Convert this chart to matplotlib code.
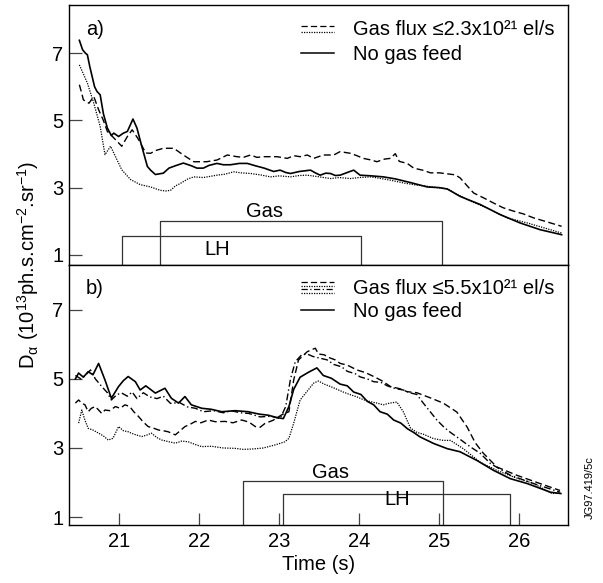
import matplotlib
matplotlib.use("Agg")
import matplotlib.pyplot as plt

plt.rcParams['font.family'] = ['Liberation Sans', 'DejaVu Sans']
plt.rcParams['mathtext.fontset'] = 'custom'
plt.rcParams['mathtext.rm'] = 'Liberation Sans'
plt.rcParams['mathtext.it'] = 'Liberation Sans:italic'
plt.rcParams['mathtext.bf'] = 'Liberation Sans:bold'

# ---- panel a) data (time in s, D-alpha in 1e13 ph/s/cm2/sr)
a_solid_t = [20.50, 20.54, 20.575, 20.60, 20.63, 20.66, 20.69, 20.72, 20.76, 20.80, 20.85, 20.90,
             20.93, 20.99, 21.05, 21.10, 21.17, 21.22, 21.28, 21.35, 21.39, 21.45, 21.55, 21.62,
             21.70, 21.80, 21.90, 21.97, 22.05, 22.12, 22.22, 22.30, 22.39, 22.50, 22.60, 22.70,
             22.81, 22.93, 23.01, 23.08, 23.14, 23.25, 23.39, 23.45, 23.51, 23.58, 23.64, 23.70,
             23.76, 23.85, 23.93, 24.01, 24.15, 24.30, 24.45, 24.64, 24.85, 25.00, 25.10, 25.26,
             25.51, 25.76, 26.01, 26.26, 26.53]
a_solid_v = [7.38, 7.10, 7.00, 6.95, 6.60, 6.30, 6.00, 5.86, 5.76, 5.20, 4.77, 4.55,
             4.62, 4.52, 4.62, 4.67, 5.04, 4.77, 4.23, 3.63, 3.52, 3.39, 3.43, 3.58,
             3.65, 3.73, 3.65, 3.58, 3.58, 3.66, 3.72, 3.68, 3.68, 3.72, 3.72, 3.65,
             3.58, 3.48, 3.52, 3.45, 3.42, 3.48, 3.52, 3.44, 3.37, 3.43, 3.42, 3.36,
             3.37, 3.45, 3.52, 3.37, 3.35, 3.32, 3.26, 3.15, 3.02, 3.00, 2.96, 2.74,
             2.50, 2.20, 1.95, 1.75, 1.60]

a_dash_t = [20.50, 20.53, 20.55, 20.62, 20.68, 20.74, 20.80, 20.85, 20.93, 21.03, 21.10, 21.16,
            21.24, 21.33, 21.39, 21.45, 21.55, 21.68, 21.80, 21.93, 22.09, 22.22, 22.35, 22.47,
            22.55, 22.64, 22.72, 22.81, 22.97, 23.10, 23.18, 23.26, 23.35, 23.43, 23.55, 23.68,
            23.76, 23.89, 23.97, 24.05, 24.15, 24.22, 24.32, 24.39, 24.45, 24.50, 24.60, 24.68,
            24.79, 24.89, 25.00, 25.10, 25.20, 25.26, 25.35, 25.43, 25.55, 25.68, 25.80, 25.93,
            26.05, 26.18, 26.35, 26.53]
a_dash_v = [6.06, 5.80, 5.61, 5.51, 5.71, 5.32, 5.00, 4.67, 4.48, 4.23, 4.52, 4.72,
            4.43, 4.03, 4.02, 4.10, 4.17, 4.17, 3.97, 3.77, 3.77, 3.82, 3.97, 3.92,
            3.90, 3.97, 3.90, 3.92, 3.92, 3.87, 3.95, 3.92, 3.97, 3.87, 3.97, 3.97,
            4.07, 4.02, 3.95, 3.87, 3.82, 3.77, 3.85, 3.87, 4.01, 3.78, 3.72, 3.58,
            3.52, 3.44, 3.44, 3.41, 3.38, 3.29, 3.05, 2.84, 2.70, 2.54, 2.40, 2.30,
            2.22, 2.10, 1.98, 1.85]

a_dot_t = [20.50, 20.60, 20.68, 20.76, 20.82, 20.89, 20.95, 21.03, 21.14, 21.26, 21.39, 21.51,
           21.58, 21.64, 21.70, 21.76, 21.85, 21.93, 22.05, 22.22, 22.32, 22.43, 22.52, 22.64,
           22.76, 22.89, 23.00, 23.14, 23.25, 23.35, 23.50, 23.64, 23.75, 23.89, 24.00, 24.14,
           24.25, 24.39, 24.55, 24.70, 24.85, 25.10, 25.35, 25.60, 25.85, 26.10, 26.53]
a_dot_v = [6.65, 6.11, 5.51, 4.82, 3.98, 4.23, 3.93, 3.53, 3.24, 3.09, 3.02, 2.92,
           2.90, 2.92, 3.05, 3.12, 3.25, 3.32, 3.30, 3.37, 3.40, 3.47, 3.44, 3.42,
           3.38, 3.32, 3.35, 3.32, 3.36, 3.37, 3.32, 3.27, 3.30, 3.27, 3.30, 3.32,
           3.28, 3.22, 3.14, 3.08, 3.04, 2.96, 2.64, 2.39, 2.10, 1.95, 1.65]

# ---- panel b) data
b_solid_t = [20.45, 20.49, 20.55, 20.61, 20.67, 20.74, 20.82, 20.90, 20.99, 21.05, 21.11, 21.20,
             21.26, 21.33, 21.45, 21.57, 21.65, 21.74, 21.82, 21.90, 22.03, 22.15, 22.28, 22.45,
             22.61, 22.75, 22.86, 22.97, 23.05, 23.12, 23.18, 23.26, 23.37, 23.47, 23.55, 23.65,
             23.76, 23.85, 23.93, 24.02, 24.10, 24.18, 24.26, 24.35, 24.43, 24.52, 24.60, 24.68,
             24.76, 24.85, 24.93, 25.10, 25.26, 25.47, 25.68, 25.89, 26.10, 26.39, 26.52]
b_solid_v = [5.00, 5.17, 5.05, 5.21, 5.12, 5.45, 4.97, 4.44, 4.78, 4.95, 5.07, 4.92,
             4.68, 4.80, 4.59, 4.73, 4.44, 4.30, 4.49, 4.25, 4.15, 4.12, 4.05, 4.08,
             4.05, 3.98, 3.95, 3.88, 3.85, 4.20, 4.70, 5.05, 5.20, 5.32, 5.10, 5.02,
             4.85, 4.80, 4.62, 4.55, 4.35, 4.25, 4.05, 3.98, 3.81, 3.72, 3.56, 3.45,
             3.32, 3.22, 3.13, 2.98, 2.89, 2.64, 2.35, 2.11, 1.97, 1.72, 1.68]

b_dashdot_t = [20.45, 20.52, 20.58, 20.64, 20.70, 20.78, 20.85, 20.90, 20.97, 21.03, 21.10, 21.16,
               21.22, 21.30, 21.38, 21.47, 21.55, 21.64, 21.75, 21.85, 21.95, 22.05, 22.18, 22.30,
               22.40, 22.51, 22.62, 22.76, 22.90, 23.01, 23.08, 23.14, 23.20, 23.28, 23.35, 23.42,
               23.51, 23.60, 23.68, 23.78, 23.85, 23.95, 24.01, 24.10, 24.18, 24.27, 24.35, 24.45,
               24.55, 24.63, 24.72, 24.80, 24.97, 25.06, 25.14, 25.22, 25.39, 25.51, 25.64, 25.89,
               26.18, 26.51]
b_dashdot_v = [5.10, 5.00, 5.12, 5.26, 5.00, 4.78, 4.60, 4.39, 4.55, 4.59, 4.50, 4.62,
               4.43, 4.60, 4.48, 4.43, 4.50, 4.29, 4.32, 4.19, 4.15, 4.05, 4.08, 4.02,
               4.08, 4.02, 4.00, 3.90, 3.92, 3.85, 4.20, 5.00, 5.50, 5.70, 5.72, 5.65,
               5.60, 5.55, 5.42, 5.35, 5.22, 5.15, 5.06, 5.00, 4.92, 4.90, 4.80, 4.72,
               4.68, 4.60, 4.55, 4.30, 3.81, 3.60, 3.45, 3.32, 3.03, 2.85, 2.55, 2.21,
               1.97, 1.72]

b_dash_t = [20.45, 20.49, 20.53, 20.57, 20.61, 20.65, 20.70, 20.74, 20.78, 20.82, 20.88, 20.95,
            21.01, 21.07, 21.13, 21.18, 21.24, 21.30, 21.36, 21.42, 21.49, 21.55, 21.61, 21.70,
            21.76, 21.82, 21.88, 21.95, 22.02, 22.11, 22.20, 22.32, 22.42, 22.53, 22.62, 22.70,
            22.76, 22.82, 22.92, 23.03, 23.12, 23.18, 23.24, 23.35, 23.45, 23.49, 23.56, 23.62,
            23.70, 23.76, 23.85, 23.97, 24.08, 24.18, 24.28, 24.39, 24.50, 24.60, 24.72, 24.89,
            25.05, 25.22, 25.35, 25.45, 25.55, 25.72, 25.97, 26.26, 26.51]
b_dash_v = [4.30, 4.39, 4.30, 4.25, 4.05, 4.15, 4.20, 4.10, 4.00, 4.10, 4.08, 4.20,
            4.15, 4.25, 4.20, 4.05, 3.91, 3.75, 3.62, 3.58, 3.52, 3.50, 3.47, 3.38,
            3.50, 3.62, 3.68, 3.77, 3.73, 3.81, 3.76, 3.77, 3.73, 3.81, 3.75, 3.62,
            3.60, 3.71, 3.80, 3.96, 4.05, 4.97, 5.55, 5.79, 5.89, 5.72, 5.70, 5.62,
            5.55, 5.45, 5.40, 5.26, 5.18, 5.07, 4.95, 4.78, 4.72, 4.63, 4.60, 4.45,
            4.30, 4.04, 3.60, 3.15, 2.85, 2.45, 2.21, 1.97, 1.77]

b_dot_t = [20.49, 20.53, 20.57, 20.61, 20.67, 20.74, 20.80, 20.86, 20.92, 20.99, 21.05, 21.11,
           21.18, 21.28, 21.35, 21.40, 21.47, 21.53, 21.62, 21.70, 21.78, 21.86, 21.95, 22.03,
           22.15, 22.30, 22.44, 22.55, 22.66, 22.80, 22.95, 23.07, 23.12, 23.18, 23.26, 23.35,
           23.43, 23.49, 23.56, 23.64, 23.72, 23.80, 23.88, 23.97, 24.05, 24.14, 24.22, 24.30,
           24.38, 24.47, 24.55, 24.64, 24.72, 24.80, 24.93, 25.05, 25.14, 25.30, 25.51, 25.72,
           25.93, 26.18, 26.41, 26.52]
b_dot_v = [3.72, 4.10, 3.80, 3.57, 3.52, 3.43, 3.35, 3.23, 3.28, 3.62, 3.50, 3.47,
           3.40, 3.33, 3.38, 3.43, 3.30, 3.23, 3.18, 3.14, 3.20, 3.18, 3.10, 3.04,
           3.05, 3.00, 2.99, 2.96, 2.97, 3.00, 3.09, 3.18, 3.28, 3.72, 4.39, 4.65,
           4.88, 4.94, 4.85, 4.78, 4.70, 4.62, 4.55, 4.48, 4.40, 4.34, 4.30, 4.25,
           4.30, 4.33, 4.05, 3.58, 3.45, 3.40, 3.27, 3.22, 3.22, 2.98, 2.59, 2.35,
           2.16, 1.97, 1.68, 1.70]

# timing windows: (start, end, level)
a_gas = (21.51, 25.03, 2.0)
a_lh = (21.03, 24.02, 1.57)
b_gas = (22.55, 25.05, 2.04)
b_lh = (23.04, 25.89, 1.67)

yticks = [1, 3, 5, 7]
xticks = [21, 22, 23, 24, 25, 26]

DASH = (5, 2.5)
DOT = (1, 1)
DASHDOT = (5, 2, 1, 2)
FS = 14.5


def window(ax, win, label, lx, ly, ymin):
    t0, t1, lev = win
    ax.plot([t0, t0, t1, t1], [ymin - 1, lev, lev, ymin - 1], color='#333333', lw=0.9)
    ax.text(lx, ly, label, fontsize=FS, ha='center', va='center')


def style(ax, ylim):
    ax.set_xlim(20.37, 26.61)
    ax.set_ylim(*ylim)
    ax.set_yticks(yticks)
    ax.tick_params(axis='y', direction='in', length=9, width=0.9, color='#444444',
                   labelsize=FS, pad=4)
    for s in ax.spines.values():
        s.set_linewidth(1.0)


fig = plt.figure(figsize=(6.03, 5.83), dpi=100)
ax1 = fig.add_axes([0.1144, 0.5455, 0.8276, 0.4459])
ax2 = fig.add_axes([0.1144, 0.0995, 0.8276, 0.4460])

# panel a
ax1.plot(a_dash_t, a_dash_v, color='black', lw=1.0, dashes=DASH)
ax1.plot(a_dot_t, a_dot_v, color='black', lw=0.9, dashes=DOT)
ax1.plot(a_solid_t, a_solid_v, color='black', lw=1.2)
style(ax1, (0.70, 8.43))
ax1.set_xticks([])
window(ax1, a_gas, 'Gas', 22.81, 2.30, 0.70)
window(ax1, a_lh, 'LH', 22.22, 1.15, 0.70)
ax1.text(20.58, 7.70, 'a)', fontsize=FS, ha='left', va='center')

# legend a (drawn by hand in axes coords)
ax1.plot([0.464, 0.531], [0.921, 0.921], transform=ax1.transAxes, color='black', lw=0.9, dashes=DASH)
ax1.plot([0.464, 0.531], [0.897, 0.897], transform=ax1.transAxes, color='black', lw=0.9, dashes=DOT)
ax1.plot([0.464, 0.531], [0.815, 0.815], transform=ax1.transAxes, color='black', lw=1.1)
ax1.text(0.569, 0.905, 'Gas flux \u22642.3x10\u00b2\u00b9 el/s', transform=ax1.transAxes,
         fontsize=FS, ha='left', va='center')
ax1.text(0.569, 0.808, 'No gas feed', transform=ax1.transAxes, fontsize=FS, ha='left', va='center')

# panel b
ax2.plot(b_dash_t, b_dash_v, color='black', lw=1.0, dashes=DASH)
ax2.plot(b_dot_t, b_dot_v, color='black', lw=0.9, dashes=DOT)
ax2.plot(b_dashdot_t, b_dashdot_v, color='black', lw=1.0, dashes=DASHDOT)
ax2.plot(b_solid_t, b_solid_v, color='black', lw=1.2)
style(ax2, (0.77, 8.30))
ax2.set_xticks(xticks)
ax2.tick_params(axis='x', direction='in', length=9, width=0.9, color='#444444',
                labelsize=FS, pad=5)
ax2.set_xlabel('Time (s)', fontsize=FS, labelpad=3)
window(ax2, b_gas, 'Gas', 23.64, 2.30, 0.77)
window(ax2, b_lh, 'LH', 24.48, 1.50, 0.77)
ax2.text(20.58, 7.61, 'b)', fontsize=FS, ha='left', va='center')

ax2.plot([0.464, 0.531], [0.936, 0.936], transform=ax2.transAxes, color='black', lw=0.9, dashes=DASH)
ax2.plot([0.464, 0.531], [0.921, 0.921], transform=ax2.transAxes, color='black', lw=0.9, dashes=DOT)
ax2.plot([0.464, 0.531], [0.906, 0.906], transform=ax2.transAxes, color='black', lw=0.9, dashes=DASHDOT)
ax2.plot([0.464, 0.531], [0.891, 0.891], transform=ax2.transAxes, color='black', lw=0.9, dashes=DOT)
ax2.plot([0.464, 0.531], [0.826, 0.826], transform=ax2.transAxes, color='black', lw=1.1)
ax2.text(0.569, 0.910, 'Gas flux \u22645.5x10\u00b2\u00b9 el/s', transform=ax2.transAxes,
         fontsize=FS, ha='left', va='center')
ax2.text(0.569, 0.820, 'No gas feed', transform=ax2.transAxes, fontsize=FS, ha='left', va='center')

fig.text(0.046, 0.545, 'D$_{\\mathregular{\u03b1}}$ (10$^{\\mathregular{13}}$ph.s.cm$^{\\mathregular{\u22122}}$.sr$^{\\mathregular{\u22121}}$)',
         rotation=90, fontsize=FS, ha='center', va='center')
fig.text(0.978, 0.163, 'JG97.419/5c', rotation=90, fontsize=8, ha='center', va='center')

plt.savefig('out.png', dpi=100)
